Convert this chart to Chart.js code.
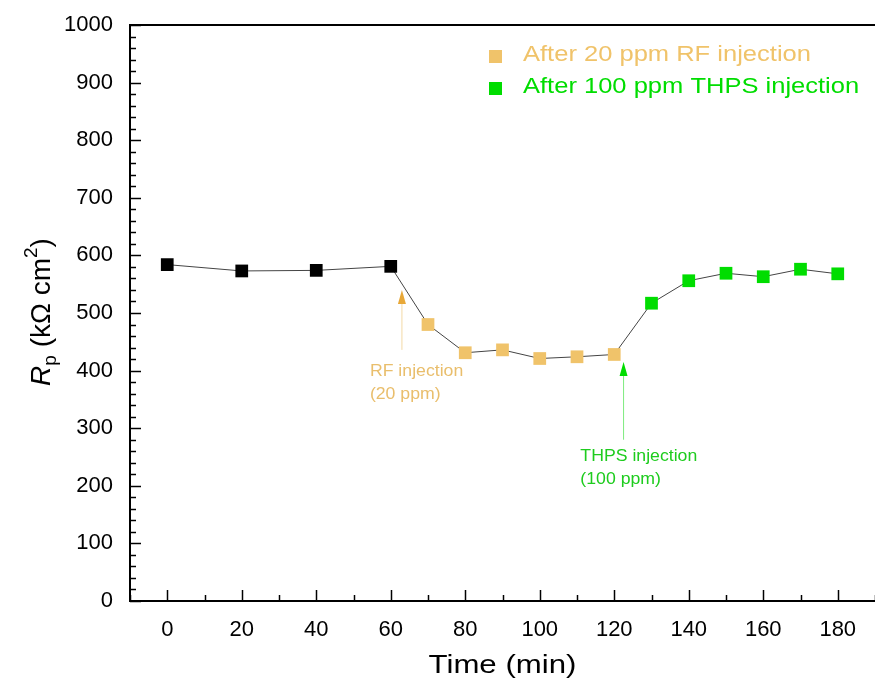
<!DOCTYPE html>
<html>
<head>
<meta charset="utf-8">
<script src="https://cdn.jsdelivr.net/npm/chart.js@4.4.1/dist/chart.umd.min.js"></script>
<style>
html,body{margin:0;padding:0;background:#fff;}
#wrap{width:875px;height:682px;position:relative;}
</style>
</head>
<body>
<div id="wrap"><canvas id="rpChart"></canvas></div>
<script>
// time (min) and Rp (kOhm cm2)
const baseTimes = [0, 20, 40, 60];
const baseRp = [584, 573, 574, 581];
const rfTimes = [70, 80, 90, 100, 110, 120];
const rfRp = [480, 431, 436, 421, 424, 428];
const thpsTimes = [130, 140, 150, 160, 170, 180];
const thpsRp = [517, 556, 569, 563, 576, 568];

const xTicks = [0, 20, 40, 60, 80, 100, 120, 140, 160, 180];
const yTicks = [0, 100, 200, 300, 400, 500, 600, 700, 800, 900, 1000];

const legendLabels = ["After 20 ppm RF injection", "After 100 ppm THPS injection"];
// arrow at x, from value -> tip value, note anchored at (textX, textY)
const rfArrow = {x: 63, from: 436, to: 540, textX: 54.4, textY: 398, lines: ["RF injection", "(20 ppm)"]};
const thpsArrow = {x: 122.5, from: 280, to: 415, textX: 110.9, textY: 252, lines: ["THPS injection", "(100 ppm)"]};

const TAN = "#F0C36A";
const GREEN = "#00DD00";
const FONT = "'Liberation Sans', Arial, sans-serif";

function toPts(xs, ys){
  return xs.map((x,i)=>({x:x, y:ys[i]}));
}

const allPts = toPts(baseTimes.concat(rfTimes, thpsTimes), baseRp.concat(rfRp, thpsRp));

// text stretched horizontally like the source figure
function wideText(ctx, t, x, y, sx){
  ctx.save();
  ctx.translate(x, y);
  ctx.scale(sx, 1);
  ctx.fillText(t, 0, 0);
  ctx.restore();
}

// inward ticks, top frame, legend, annotations, axis titles
const decor = {
  id: "decor",
  afterDraw(chart){
    const ctx = chart.ctx;
    const xs = chart.scales.x, ys = chart.scales.y;
    const a = chart.chartArea;
    ctx.save();
    ctx.strokeStyle = "#000";
    // top frame
    ctx.lineWidth = 2;
    ctx.beginPath();
    ctx.moveTo(a.left, a.top);
    ctx.lineTo(a.right, a.top);
    ctx.stroke();
    ctx.lineWidth = 1.5;
    // x ticks
    for(let v = -10; v <= 190; v += 10){
      const px = Math.round(xs.getPixelForValue(v)) + 0.5;
      const len = v % 20 === 0 ? 11 : 6;
      ctx.beginPath();
      ctx.moveTo(px, a.bottom);
      ctx.lineTo(px, a.bottom - len);
      ctx.stroke();
    }
    // y ticks
    for(let v = 0; v <= 1000; v += 20){
      const py = Math.round(ys.getPixelForValue(v)) + 0.5;
      const len = v % 100 === 0 ? 11 : 6;
      ctx.beginPath();
      ctx.moveTo(a.left, py);
      ctx.lineTo(a.left + len, py);
      ctx.stroke();
    }

    // legend
    const legColors = [TAN, GREEN];
    ctx.font = "22px " + FONT;
    ctx.textBaseline = "middle";
    ctx.textAlign = "left";
    legendLabels.forEach((t,i)=>{
      const cy = 55 + i*32;
      ctx.fillStyle = legColors[i];
      ctx.fillRect(489, cy - 5, 13, 13);
      wideText(ctx, t, 523, cy, 1.16);
    });

    // arrows + notes
    function arrow(spec, lineColor, headColor, textColor){
      const px = xs.getPixelForValue(spec.x);
      const y0 = ys.getPixelForValue(spec.from);
      const y1 = ys.getPixelForValue(spec.to);
      ctx.strokeStyle = lineColor;
      ctx.lineWidth = 1;
      ctx.beginPath();
      ctx.moveTo(px, y0);
      ctx.lineTo(px, y1 + 10);
      ctx.stroke();
      ctx.fillStyle = headColor;
      ctx.beginPath();
      ctx.moveTo(px, y1);
      ctx.lineTo(px - 4, y1 + 14);
      ctx.lineTo(px + 4, y1 + 14);
      ctx.closePath();
      ctx.fill();
      ctx.fillStyle = textColor;
      ctx.font = "17px " + FONT;
      ctx.textAlign = "left";
      ctx.textBaseline = "middle";
      const tx = xs.getPixelForValue(spec.textX);
      const ty = ys.getPixelForValue(spec.textY);
      spec.lines.forEach((t,i)=>{
        wideText(ctx, t, tx, ty + i*23, 1.04);
      });
    }
    arrow(rfArrow, "#F3D9A6", "#E8A838", "#E9BE6C");
    arrow(thpsArrow, "#7DEB7D", GREEN, "#1ECC1E");

    // x axis title
    ctx.fillStyle = "#000";
    ctx.font = "26px " + FONT;
    ctx.textAlign = "center";
    ctx.textBaseline = "middle";
    ctx.save();
    ctx.translate((a.left + a.right) / 2, 666);
    ctx.scale(1.2, 1);
    ctx.fillText("Time (min)", 0, 0);
    ctx.restore();

    // y axis title: R_p (kΩ cm²)
    ctx.translate(40, 312);
    ctx.rotate(-Math.PI/2);
    ctx.textBaseline = "alphabetic";
    ctx.textAlign = "left";
    const big = "28px " + FONT, small = "19px " + FONT, ital = "italic 28px " + FONT;
    const parts = [
      {t:"R", f:ital, dy:0},
      {t:"p", f:small, dy:6},
      {t:" (k\u03A9 cm", f:big, dy:0},
      {t:"2", f:small, dy:-13},
      {t:")", f:big, dy:0}
    ];
    let w = 0;
    parts.forEach(p=>{ ctx.font = p.f; p.w = ctx.measureText(p.t).width; w += p.w; });
    let x = -w/2;
    parts.forEach(p=>{
      ctx.font = p.f;
      ctx.fillText(p.t, x, 10 + p.dy);
      x += p.w;
    });
    ctx.restore();
  }
};

const ctx = document.getElementById("rpChart").getContext("2d");

new Chart(ctx,{
  type: "scatter",
  data: {
    datasets: [
      {
        label: "line",
        data: allPts,
        showLine: true,
        borderColor: "#444",
        borderWidth: 1,
        pointRadius: 0,
        order: 2
      },
      {
        label: "Before",
        data: toPts(baseTimes, baseRp),
        pointStyle: "rect",
        pointRadius: 9,
        backgroundColor: "#000",
        borderColor: "#000",
        borderWidth: 0,
        order: 1
      },
      {
        label: legendLabels[0],
        data: toPts(rfTimes, rfRp),
        pointStyle: "rect",
        pointRadius: 9,
        backgroundColor: TAN,
        borderColor: TAN,
        borderWidth: 0,
        order: 1
      },
      {
        label: legendLabels[1],
        data: toPts(thpsTimes, thpsRp),
        pointStyle: "rect",
        pointRadius: 9,
        backgroundColor: GREEN,
        borderColor: GREEN,
        borderWidth: 0,
        order: 1
      }
    ]
  },
  options: {
    responsive: true,
    maintainAspectRatio: false,
    animation: false,
    layout: {autoPadding: false, padding: {top: 25, right: 0, left: 0, bottom: 0}},
    plugins: {
      legend: {display: false},
      tooltip: {enabled: false}
    },
    scales: {
      x: {
        type: "linear",
        min: -10,
        max: 190,
        afterBuildTicks: s => { s.ticks = xTicks.map(v=>({value:v})); },
        afterFit: s => { s.height = 81; s.paddingLeft = 0; s.paddingRight = 0; },
        grid: {display: false, drawTicks: false},
        border: {display: true, color: "#000", width: 2},
        ticks: {color: "#000", padding: 16, font: {size: 22, family: FONT}, callback: v => String(v)}
      },
      y: {
        min: 0,
        max: 1000,
        afterBuildTicks: s => { s.ticks = yTicks.map(v=>({value:v})); },
        afterFit: s => { s.width = 130; s.paddingTop = 0; s.paddingBottom = 0; },
        grid: {display: false, drawTicks: false},
        border: {display: true, color: "#000", width: 2},
        ticks: {color: "#000", padding: 17, font: {size: 22, family: FONT}, callback: v => String(v)}
      }
    }
  },
  plugins: [decor]
});
</script>
</body>
</html>
